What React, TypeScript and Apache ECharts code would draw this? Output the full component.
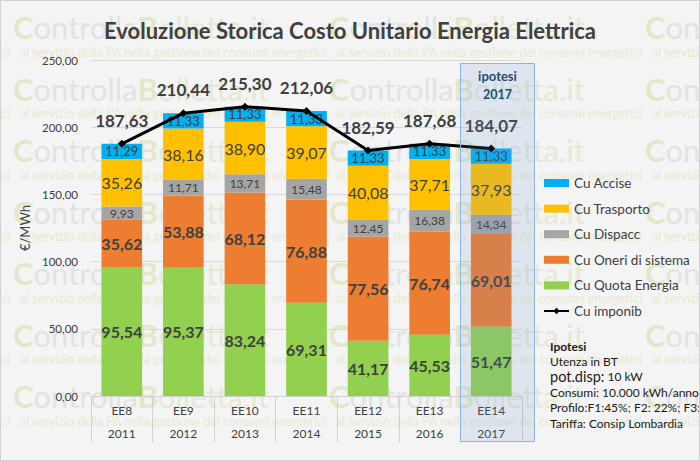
import React, { useEffect, useRef } from "react";
import * as echarts from "echarts";

const categories = ["EE8", "EE9", "EE10", "EE11", "EE12", "EE13", "EE14"];
const years = ["2011", "2012", "2013", "2014", "2015", "2016", "2017"];
const quotaEnergia = [95.54, 95.37, 83.24, 69.31, 41.17, 45.53, 51.47];
const oneriSistema = [35.62, 53.88, 68.12, 76.88, 77.56, 76.74, 69.01];
const dispacc = [9.93, 11.71, 13.71, 15.48, 12.45, 16.38, 14.34];
const trasporto = [35.26, 38.16, 38.9, 39.07, 40.08, 37.71, 37.93];
const accise = [11.29, 11.33, 11.33, 11.33, 11.33, 11.33, 11.33];
const imponib = [187.63, 210.44, 215.3, 212.06, 182.59, 187.68, 184.07];

const titleText = "Evoluzione Storica Costo Unitario Energia Elettrica";
const infoLines = [
  "{b|Ipotesi}",
  "{n|Utenza in BT}",
  "{big|pot.disp:} {n|10 kW}",
  "{n|Consumi: 10.000 kWh/anno}",
  "{n|Profilo:F1:45%; F2: 22%; F3: 33%}",
  "{n|Tariffa: Consip Lombardia}",
];
const watermarkBig = "{c|C}{g|ontrolla}{c|B}{o|olletta.it}";
const watermarkSmall = "al servizio della PA nella gestione dei consumi energetici";

const FONT = "Lato, 'Open Sans', sans-serif";
const fmt = (v: number) => v.toFixed(2).replace(".", ",");

export default function App() {
  const ref = useRef<HTMLDivElement>(null);
  useEffect(() => {
    if (!ref.current) return;
    const chart = echarts.init(ref.current, null, { renderer: "svg" });

    const wm: any[] = [];
    for (let r = 0; r < 7; r++) {
      const yb = 27 + r * 61.5;
      for (let c = 0; c < 4; c++) {
        const xb = 13 + (c - 1) * 316;
        wm.push({
          type: "text",
          x: xb,
          y: yb,
          z: -10,
          silent: true,
          style: {
            text: watermarkBig,
            fontFamily: FONT,
            fontSize: 31,
            verticalAlign: "middle",
            rich: {
              c: { fill: "#e3e8c9", fontSize: 31, fontWeight: "bold", fontFamily: FONT },
              g: { fill: "#e3e3e3", fontSize: 31, fontFamily: FONT },
              o: { fill: "#e6e9d6", fontSize: 31, fontFamily: FONT },
            },
          },
        });
        wm.push({
          type: "text",
          x: xb + 7,
          y: yb + 25,
          z: -10,
          silent: true,
          style: {
            text: watermarkSmall,
            fontFamily: FONT,
            fontSize: 12.5,
            fill: "#e6ead2",
            verticalAlign: "middle",
          },
        });
      }
    }

    const barLabel = (size: number, bold: boolean) => ({
      show: true,
      position: "inside",
      color: "#404040",
      fontFamily: FONT,
      fontSize: size,
      fontWeight: bold ? "bold" : "normal",
      formatter: (p: any) => fmt(p.value),
    });

    const option: any = {
      animation: false,
      backgroundColor: "#f4f4f4",
      textStyle: { fontFamily: FONT },
      title: {
        text: titleText,
        left: "center",
        top: 14,
        textStyle: { fontFamily: FONT, fontSize: 22, fontWeight: "bold", color: "#404040" },
      },
      grid: { left: 91, right: 178, top: 60, bottom: 65, containLabel: false },
      legend: {
        orient: "vertical",
        left: 543,
        top: 176,
        padding: 0,
        itemWidth: 25,
        itemHeight: 8,
        itemGap: 11.6,
        textStyle: { fontFamily: FONT, fontSize: 13.5, color: "#404040", lineHeight: 14 },
        data: [
          { name: "Cu Accise", icon: "rect" },
          { name: "Cu Trasporto", icon: "rect" },
          { name: "Cu Dispacc", icon: "rect" },
          { name: "Cu Oneri di sistema", icon: "rect" },
          { name: "Cu Quota Energia", icon: "rect" },
          { name: "Cu imponib" },
        ],
      },
      xAxis: {
        type: "category",
        data: categories.map((c, i) => c + "\n" + years[i]),
        axisLine: { lineStyle: { color: "#d0d0d0" } },
        axisTick: { show: true, length: 46, lineStyle: { color: "#d0d0d0" }, interval: 0 },
        axisLabel: { color: "#404040", fontSize: 12, lineHeight: 23, margin: 3, interval: 0, fontFamily: FONT },
      },
      yAxis: {
        type: "value",
        min: 0,
        max: 250,
        interval: 50,
        name: "€/MWh",
        nameLocation: "middle",
        nameRotate: 90,
        nameGap: 57,
        nameTextStyle: { fontSize: 13, color: "#404040", fontFamily: FONT },
        axisLine: { show: false },
        axisTick: { show: false },
        axisLabel: { color: "#404040", fontSize: 11.5, margin: 13, formatter: (v: number) => fmt(v), fontFamily: FONT },
        splitLine: { lineStyle: { color: "#d9d9d9" } },
      },
      series: [
        {
          name: "Cu Quota Energia",
          type: "bar",
          stack: "tot",
          barWidth: "66%",
          data: quotaEnergia,
          itemStyle: { color: "#92d050" },
          label: barLabel(16, true),
        },
        {
          name: "Cu Oneri di sistema",
          type: "bar",
          stack: "tot",
          data: oneriSistema,
          itemStyle: { color: "#ed7d31" },
          label: barLabel(16, true),
        },
        {
          name: "Cu Dispacc",
          type: "bar",
          stack: "tot",
          data: dispacc,
          itemStyle: { color: "#a5a5a5" },
          label: barLabel(12, false),
        },
        {
          name: "Cu Trasporto",
          type: "bar",
          stack: "tot",
          data: trasporto,
          itemStyle: { color: "#ffc000" },
          label: barLabel(16, false),
        },
        {
          name: "Cu Accise",
          type: "bar",
          stack: "tot",
          data: accise,
          itemStyle: { color: "#00b0f0" },
          label: barLabel(13, false),
        },
        {
          name: "Cu imponib",
          type: "line",
          data: imponib,
          z: 5,
          symbol: "diamond",
          symbolSize: 8,
          lineStyle: { color: "#000000", width: 3 },
          itemStyle: { color: "#000000" },
          label: {
            show: true,
            position: "top",
            distance: 11,
            color: "#404040",
            fontSize: 17,
            fontWeight: "bold",
            fontFamily: FONT,
            formatter: (p: any) => fmt(p.value),
          },
        },
      ],
      graphic: [
        ...wm,
        {
          type: "rect",
          z: 100,
          silent: true,
          shape: { x: 460.5, y: 63.5, width: 74, height: 378 },
          style: { fill: "rgba(100,150,215,0.15)", stroke: "#8db4e2", lineWidth: 1 },
        },
        {
          type: "text",
          z: 101,
          x: 497.5,
          y: 76,
          style: {
            text: "ipotesi",
            fill: "#1f4e79",
            fontSize: 13,
            fontWeight: "bold",
            fontFamily: FONT,
            align: "center",
            verticalAlign: "middle",
          },
        },
        {
          type: "text",
          z: 101,
          x: 497.5,
          y: 94,
          style: {
            text: "2017",
            fill: "#1f4e79",
            fontSize: 12.5,
            fontWeight: "bold",
            fontFamily: FONT,
            align: "center",
            verticalAlign: "middle",
          },
        },
        ...infoLines.map((t, i) => ({
          type: "text",
          z: 101,
          x: 550,
          y: 346 + i * 15.4,
          style: {
            text: t,
            fontFamily: FONT,
            verticalAlign: "middle",
            rich: {
              b: { fontSize: 12, fontWeight: "bold", fill: "#1a1a1a", fontFamily: FONT },
              n: { fontSize: 12, fill: "#1a1a1a", fontFamily: FONT },
              big: { fontSize: 14.5, fill: "#1a1a1a", fontFamily: FONT },
            },
          },
        })),
        {
          type: "rect",
          z: 102,
          silent: true,
          shape: { x: 0.5, y: 0.5, width: 699, height: 460 },
          style: { fill: "none", stroke: "#d0d0d0", lineWidth: 1 },
        },
      ],
    };
    chart.setOption(option);
    return () => chart.dispose();
  }, []);
  return <div ref={ref} style={{ position: "absolute", left: 0, top: 0, width: 700, height: 461 }} />;
}
